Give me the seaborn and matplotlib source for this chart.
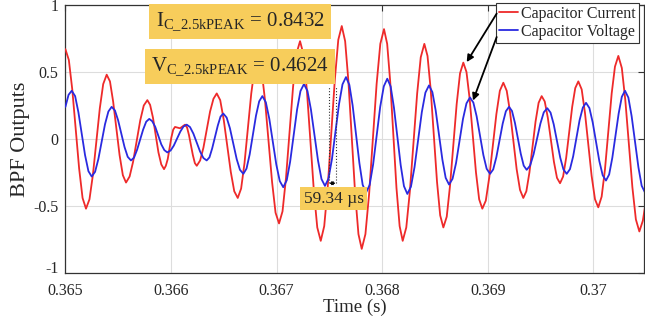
import numpy as np
import pandas as pd
import matplotlib.pyplot as plt
from matplotlib.ticker import FormatStrFormatter
from matplotlib.transforms import ScaledTranslation
import seaborn as sns

# (time in ms after t = 0.365 s, value)
current_pts = [
    (0.000, 0.67), (0.0325, 0.59), (0.065, 0.37), (0.130, -0.22), (0.1625, -0.44),
    (0.195, -0.52), (0.228, -0.45), (0.260, -0.27), (0.326, 0.23), (0.358, 0.41),
    (0.391, 0.48), (0.422, 0.43), (0.452, 0.28), (0.513, -0.12), (0.544, -0.27),
    (0.574, -0.325), (0.608, -0.28), (0.641, -0.17), (0.709, 0.14), (0.742, 0.25),
    (0.776, 0.29), (0.802, 0.255), (0.829, 0.16), (0.881, -0.10), (0.908, -0.19),
    (0.934, -0.225), (0.951, -0.20), (0.969, -0.15), (1.003, 0.01), (1.021, 0.07),
    (1.038, 0.09), (1.085, 0.08), (1.133, 0.107), (1.152, 0.086), (1.170, 0.03),
    (1.207, -0.12), (1.226, -0.18), (1.244, -0.20), (1.276, -0.16), (1.307, -0.065),
    (1.370, 0.205), (1.402, 0.30), (1.433, 0.34), (1.466, 0.29), (1.499, 0.145),
    (1.566, -0.245), (1.599, -0.39), (1.632, -0.44), (1.664, -0.37), (1.696, -0.18),
    (1.760, 0.34), (1.792, 0.53), (1.824, 0.60), (1.857, 0.52), (1.890, 0.29),
    (1.957, -0.32), (1.990, -0.55), (2.023, -0.63), (2.056, -0.54), (2.089, -0.29),
    (2.156, 0.39), (2.189, 0.64), (2.222, 0.73), (2.255, 0.63), (2.287, 0.36),
    (2.353, -0.39), (2.385, -0.66), (2.418, -0.76), (2.451, -0.65), (2.484, -0.36),
    (2.551, 0.44), (2.584, 0.74), (2.617, 0.843), (2.649, 0.73), (2.680, 0.43),
    (2.743, -0.40), (2.775, -0.71), (2.806, -0.82), (2.841, -0.71), (2.876, -0.41),
    (2.947, 0.41), (2.982, 0.71), (3.017, 0.82), (3.047, 0.71), (3.076, 0.425),
    (3.135, -0.365), (3.165, -0.65), (3.194, -0.76), (3.228, -0.66), (3.262, -0.39),
    (3.331, 0.34), (3.365, 0.61), (3.399, 0.71), (3.429, 0.62), (3.459, 0.37),
    (3.519, -0.32), (3.549, -0.57), (3.579, -0.66), (3.611, -0.58), (3.642, -0.35),
    (3.705, 0.26), (3.737, 0.49), (3.768, 0.57), (3.798, 0.50), (3.828, 0.30),
    (3.888, -0.25), (3.918, -0.45), (3.948, -0.52), (3.981, -0.46), (4.014, -0.285),
    (4.081, 0.185), (4.114, 0.36), (4.147, 0.42), (4.179, 0.36), (4.210, 0.205),
    (4.273, -0.225), (4.305, -0.38), (4.336, -0.44), (4.365, -0.39), (4.394, -0.25),
    (4.452, 0.13), (4.481, 0.27), (4.510, 0.32), (4.539, 0.28), (4.568, 0.16),
    (4.626, -0.17), (4.655, -0.29), (4.684, -0.33), (4.713, -0.28), (4.742, -0.14),
    (4.799, 0.24), (4.828, 0.38), (4.857, 0.43), (4.889, 0.37), (4.920, 0.195),
    (4.983, -0.275), (5.015, -0.45), (5.046, -0.51), (5.078, -0.43), (5.109, -0.23),
    (5.173, 0.34), (5.204, 0.54), (5.236, 0.62), (5.269, 0.53), (5.302, 0.29),
    (5.369, -0.36), (5.402, -0.60), (5.435, -0.69), (5.468, -0.61), (5.500, -0.45),
]

# same for the capacitor voltage trace
voltage_pts = [
    (0.000, 0.24), (0.030, 0.33), (0.060, 0.36), (0.092, 0.32), (0.123, 0.20),
    (0.186, -0.12), (0.218, -0.24), (0.249, -0.28), (0.281, -0.245), (0.312, -0.15),
    (0.375, 0.11), (0.407, 0.205), (0.438, 0.24), (0.469, 0.213), (0.499, 0.14),
    (0.560, -0.06), (0.590, -0.133), (0.621, -0.16), (0.650, -0.139), (0.679, -0.08),
    (0.736, 0.07), (0.765, 0.129), (0.794, 0.15), (0.822, 0.133), (0.851, 0.09),
    (0.908, -0.04), (0.937, -0.083), (0.965, -0.10), (0.996, -0.086), (1.026, -0.05),
    (1.088, 0.055), (1.118, 0.093), (1.149, 0.107), (1.180, 0.089), (1.212, 0.04),
    (1.275, -0.093), (1.307, -0.142), (1.338, -0.16), (1.364, -0.137), (1.390, -0.07),
    (1.443, 0.10), (1.469, 0.167), (1.495, 0.19), (1.527, 0.16), (1.558, 0.08),
    (1.622, -0.15), (1.653, -0.23), (1.685, -0.26), (1.715, -0.221), (1.745, -0.115),
    (1.805, 0.175), (1.835, 0.281), (1.865, 0.32), (1.898, 0.274), (1.931, 0.15),
    (1.997, -0.19), (2.030, -0.314), (2.063, -0.36), (2.096, -0.308), (2.128, -0.17),
    (2.194, 0.22), (2.226, 0.358), (2.259, 0.41), (2.292, 0.359), (2.325, 0.22),
    (2.392, -0.16), (2.425, -0.299), (2.458, -0.35), (2.491, -0.296), (2.524, -0.15),
    (2.591, 0.26), (2.624, 0.408), (2.657, 0.462), (2.689, 0.404), (2.720, 0.25),
    (2.784, -0.18), (2.815, -0.342), (2.847, -0.40), (2.881, -0.343), (2.914, -0.19),
    (2.981, 0.24), (3.015, 0.393), (3.048, 0.45), (3.080, 0.392), (3.111, 0.235),
    (3.175, -0.195), (3.206, -0.352), (3.238, -0.41), (3.272, -0.356), (3.306, -0.21),
    (3.375, 0.20), (3.409, 0.346), (3.443, 0.40), (3.475, 0.35), (3.506, 0.215),
    (3.570, -0.155), (3.601, -0.29), (3.633, -0.34), (3.666, -0.297), (3.699, -0.18),
    (3.765, 0.15), (3.798, 0.266), (3.831, 0.31), (3.863, 0.272), (3.894, 0.17),
    (3.958, -0.12), (3.989, -0.222), (4.021, -0.26), (4.051, -0.227), (4.081, -0.135),
    (4.141, 0.115), (4.171, 0.207), (4.201, 0.24), (4.229, 0.209), (4.257, 0.12),
    (4.312, -0.11), (4.340, -0.199), (4.368, -0.23), (4.400, -0.199), (4.433, -0.115),
    (4.498, 0.115), (4.530, 0.199), (4.563, 0.23), (4.594, 0.197), (4.624, 0.11),
    (4.686, -0.14), (4.716, -0.227), (4.747, -0.26), (4.778, -0.225), (4.808, -0.13),
    (4.869, 0.14), (4.900, 0.235), (4.930, 0.27), (4.962, 0.231), (4.993, 0.125),
    (5.056, -0.165), (5.088, -0.271), (5.119, -0.31), (5.149, -0.265), (5.179, -0.14),
    (5.239, 0.19), (5.269, 0.315), (5.299, 0.36), (5.331, 0.309), (5.362, 0.17),
    (5.426, -0.21), (5.457, -0.349), (5.489, -0.40), (5.500, -0.40),
]

x_ticks = [0.365, 0.366, 0.367, 0.368, 0.369, 0.370]
y_ticks = [-1, -0.5, 0, 0.5, 1]

i_peak = 0.8432
v_peak = 0.4624
delay_us = 59.34
delay_start = 0.367499   # time where the delay marker starts (s)

# build the dataframes
t0 = 0.365
current_t, current_v = zip(*current_pts)
voltage_t, voltage_v = zip(*voltage_pts)
cur = pd.DataFrame({"Time": t0 + np.array(current_t) / 1000, "Value": current_v})
vol = pd.DataFrame({"Time": t0 + np.array(voltage_t) / 1000, "Value": voltage_v})

sns.set_style("white")
plt.rcParams['font.family'] = ['Liberation Serif', 'DejaVu Serif']
plt.rcParams['mathtext.fontset'] = 'custom'
plt.rcParams['mathtext.rm'] = 'Liberation Serif'
plt.rcParams['mathtext.it'] = 'Liberation Serif:italic'
plt.rcParams['axes.unicode_minus'] = False

fig = plt.figure(figsize=(6.45, 3.32), dpi=100)
ax = fig.add_axes([65.4 / 645, 1 - 273 / 332, 578.6 / 645, 268 / 332])

sns.lineplot(data=cur, x="Time", y="Value", color="#ee2a2a", lw=1.3, ax=ax,
             label="Capacitor Current", zorder=3)
sns.lineplot(data=vol, x="Time", y="Value", color="#2a2ae0", lw=1.3, ax=ax,
             label="Capacitor Voltage", zorder=3)

ax.set_xlim(0.365, 0.365 + 5.479 / 1000)
ax.set_ylim(-1, 1)
ax.set_xticks(x_ticks)
ax.set_yticks(y_ticks)
ax.xaxis.set_major_formatter(FormatStrFormatter('%g'))
ax.yaxis.set_major_formatter(FormatStrFormatter('%g'))
ax.tick_params(direction='in', top=True, right=True, length=4, labelsize=11.5,
               color='#333333', pad=5)
ax.tick_params(axis='x', pad=7)
ax.grid(True, color='#dddddd', lw=0.8)
for s in ax.spines.values():
    s.set_color('#333333')
    s.set_linewidth(0.9)

# MATLAB puts the bottom "-1" a little above the axis corner
low = ax.yaxis.get_major_ticks()[0].label1
low.set_transform(low.get_transform() + ScaledTranslation(0, 4 / 72, fig.dpi_scale_trans))

ax.set_xlabel("Time (s)", fontsize=13.5, labelpad=0)
ax.set_ylabel("BPF Outputs", fontsize=16, labelpad=2)

# peak value boxes
box = dict(boxstyle='square,pad=0.3', fc='#f7cd5b', ec='none')
ax.text(0.366653, 0.875, r'I$_{\mathrm{C\_2.5kPEAK}}$ = %.4f' % i_peak, fontsize=15,
        ha='center', va='center', bbox=box, zorder=5)
ax.text(0.366653, 0.542, r'V$_{\mathrm{C\_2.5kPEAK}}$ = %.4f' % v_peak, fontsize=15,
        ha='center', va='center', bbox=box, zorder=5)

# delay between current and voltage
delay_end = delay_start + delay_us * 1e-6
ax.vlines([delay_start, delay_end], -0.33, 0.385, colors='#333333', lw=0.8,
          linestyles=':', zorder=4)
ax.annotate('', xy=(delay_start, -0.33), xytext=(delay_end, -0.33),
            arrowprops=dict(arrowstyle='<->', color='black', lw=0.8, mutation_scale=5,
                            shrinkA=0, shrinkB=0), zorder=4)
ax.text(0.367539, -0.447, '%.2f µs' % delay_us, fontsize=12.5, ha='center', va='center',
        bbox=dict(boxstyle='square,pad=0.2', fc='#f7cd5b', ec='none'), zorder=5)

# legend and arrows pointing to the traces
leg = ax.legend(loc='upper left', bbox_to_anchor=(0.744, 1.008), fontsize=11.5,
                frameon=True, fancybox=False, edgecolor='#333333', framealpha=1,
                handlelength=1.2, handletextpad=0.2, borderpad=0.2,
                labelspacing=0.1, borderaxespad=0)
leg.get_frame().set_linewidth(0.8)
leg.set_zorder(6)

ax.annotate('', xy=(0.368800, 0.574), xytext=(0.369084, 0.936),
            arrowprops=dict(arrowstyle='-|>', color='black', lw=1.3, mutation_scale=10,
                            shrinkA=0, shrinkB=0), zorder=7)
ax.annotate('', xy=(0.368860, 0.287), xytext=(0.369084, 0.761),
            arrowprops=dict(arrowstyle='-|>', color='black', lw=1.3, mutation_scale=10,
                            shrinkA=0, shrinkB=0), zorder=7)

fig.savefig("out.png", dpi=100)
